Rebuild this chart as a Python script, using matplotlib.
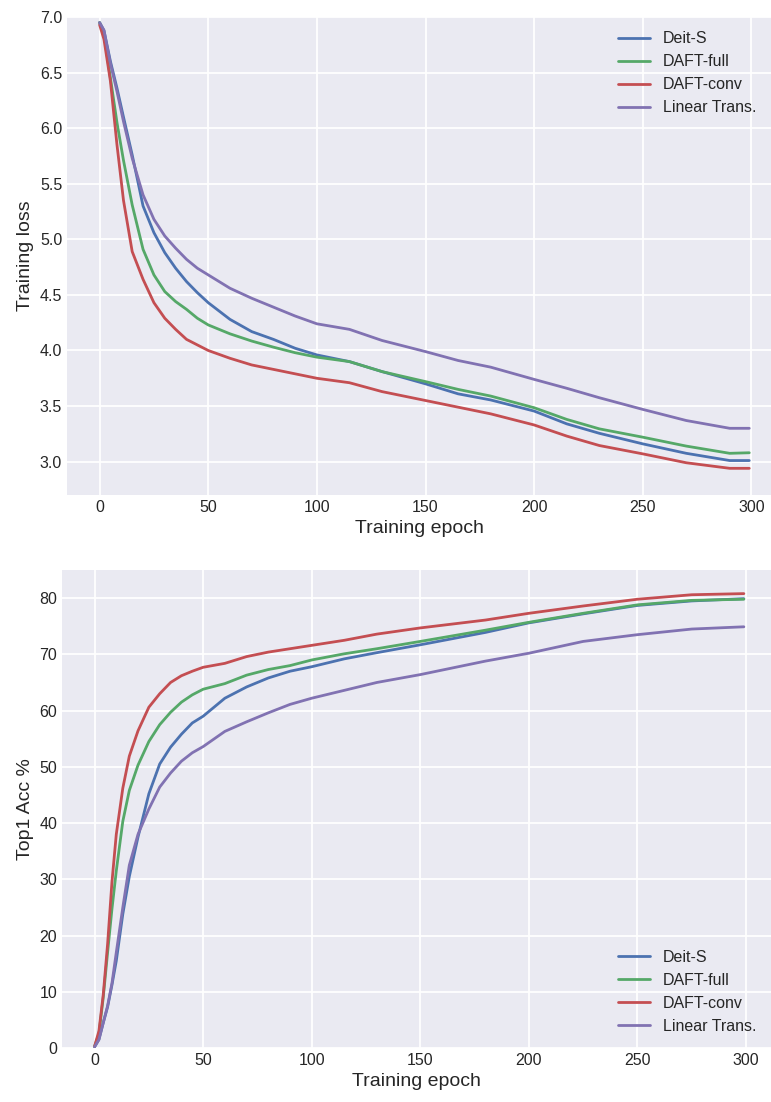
import numpy as np
import matplotlib.pyplot as plt

# Training loss curves
loss_epoch = [0, 2, 5, 8, 11, 15, 20, 25, 30, 35, 40, 45, 50, 60, 70, 80, 90, 100,
              115, 130, 150, 165, 180, 200, 215, 230, 250, 270, 290, 299]
loss_deit = [6.95, 6.88, 6.60, 6.36, 6.10, 5.76, 5.30, 5.06, 4.88, 4.74, 4.62, 4.52, 4.43,
             4.28, 4.17, 4.10, 4.02, 3.96, 3.90, 3.81, 3.70, 3.61, 3.555, 3.455, 3.34, 3.255,
             3.16, 3.075, 3.01, 3.01]
loss_full = [6.95, 6.85, 6.45, 6.05, 5.71, 5.31, 4.91, 4.68, 4.53, 4.44, 4.37, 4.29, 4.23,
             4.15, 4.085, 4.03, 3.98, 3.94, 3.90, 3.81, 3.72, 3.65, 3.59, 3.485, 3.38, 3.295,
             3.22, 3.14, 3.075, 3.08]
loss_conv = [6.93, 6.80, 6.42, 5.85, 5.35, 4.89, 4.64, 4.43, 4.29, 4.19, 4.10, 4.05, 4.00,
             3.93, 3.87, 3.83, 3.79, 3.75, 3.71, 3.63, 3.55, 3.49, 3.43, 3.33, 3.23, 3.145,
             3.07, 2.99, 2.94, 2.94]
loss_linear = [6.95, 6.88, 6.58, 6.33, 6.06, 5.73, 5.40, 5.18, 5.03, 4.92, 4.82, 4.74, 4.68,
               4.56, 4.47, 4.39, 4.31, 4.24, 4.19, 4.09, 3.99, 3.91, 3.85, 3.74, 3.66, 3.575,
               3.47, 3.37, 3.30, 3.30]

# Top1 accuracy curves
acc_epoch = [0, 2, 4, 6, 8, 10, 13, 16, 20, 25, 30, 35, 40, 45, 50, 60, 70, 80, 90, 100,
             115, 130, 150, 165, 180, 200, 225, 250, 275, 299]
acc_deit = [0.2, 1.5, 4.5, 7.3, 11.2, 15.5, 23.8, 30.5, 37.5, 45.2, 50.5, 53.5, 55.8, 57.8,
            59.0, 62.2, 64.2, 65.8, 67.0, 67.8, 69.2, 70.3, 71.7, 72.8, 73.9, 75.6, 77.2,
            78.7, 79.5, 79.9]
acc_full = [0.3, 2.5, 9.0, 17.0, 24.7, 31.5, 40.3, 45.8, 50.3, 54.5, 57.5, 59.7, 61.5, 62.8,
            63.8, 64.8, 66.3, 67.3, 68.0, 69.0, 70.1, 71.0, 72.3, 73.3, 74.3, 75.7, 77.3,
            78.8, 79.6, 79.8]
acc_conv = [0.3, 3.0, 9.5, 18.5, 29.5, 38.0, 46.2, 51.9, 56.4, 60.6, 63.0, 65.0, 66.2, 67.0,
            67.7, 68.4, 69.6, 70.4, 71.0, 71.6, 72.5, 73.6, 74.7, 75.4, 76.1, 77.3, 78.6,
            79.8, 80.6, 80.8]
acc_linear = [0.2, 1.5, 4.5, 7.5, 11.5, 17.0, 25.0, 32.5, 38.0, 42.5, 46.4, 48.9, 51.0, 52.5,
              53.6, 56.3, 58.0, 59.6, 61.1, 62.2, 63.6, 65.0, 66.4, 67.6, 68.8, 70.2, 72.3,
              73.5, 74.5, 74.9]

names = ['Deit-S', 'DAFT-full', 'DAFT-conv', 'Linear Trans.']
colors = ['#4C72B0', '#55A868', '#C44E52', '#8172B2']

plt.style.use('seaborn-v0_8-darkgrid')
plt.rcParams['font.family'] = ['Liberation Sans', 'DejaVu Sans']
plt.rcParams['text.color'] = '.15'
plt.rcParams['axes.labelcolor'] = '.15'
plt.rcParams['xtick.color'] = '.15'
plt.rcParams['ytick.color'] = '.15'
plt.rcParams['grid.linewidth'] = 1.3

fig = plt.figure(figsize=(7.71, 11.02), dpi=100)
ax1 = fig.add_axes([67 / 771, 607 / 1102, 704 / 771, 478 / 1102])
ax2 = fig.add_axes([62 / 771, 54 / 1102, 709 / 771, 478 / 1102])

for vals, name, c in zip([loss_deit, loss_full, loss_conv, loss_linear], names, colors):
    ax1.plot(loss_epoch, vals, color=c, lw=2, label=name)
ax1.set_xlim(-15, 309)
ax1.set_ylim(2.7, 7.0)
ax1.set_xticks(np.arange(0, 301, 50))
ax1.set_yticks(np.arange(3.0, 7.01, 0.5))
ax1.set_xlabel('Training epoch', fontsize=14)
ax1.set_ylabel('Training loss', fontsize=14)
ax1.tick_params(labelsize=11.5)
ax1.legend(loc='upper right', fontsize=11.5, frameon=False)

for vals, name, c in zip([acc_deit, acc_full, acc_conv, acc_linear], names, colors):
    ax2.plot(acc_epoch, vals, color=c, lw=2, label=name)
ax2.set_xlim(-15, 311.5)
ax2.set_ylim(0, 85)
ax2.set_xticks(np.arange(0, 301, 50))
ax2.set_yticks(np.arange(0, 81, 10))
ax2.set_xlabel('Training epoch', fontsize=14)
ax2.set_ylabel('Top1 Acc %', fontsize=14)
ax2.tick_params(labelsize=11.5)
ax2.legend(loc='lower right', fontsize=11.5, frameon=False)

fig.savefig('out.png', dpi=100)
